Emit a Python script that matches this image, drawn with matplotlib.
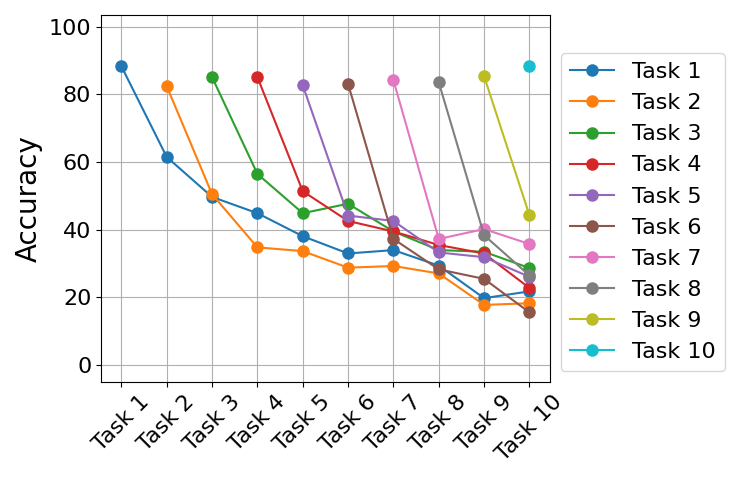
import matplotlib
matplotlib.use('Agg')
import matplotlib.pyplot as plt
import numpy as np

tasks = ['Task 1', 'Task 2', 'Task 3', 'Task 4', 'Task 5',
         'Task 6', 'Task 7', 'Task 8', 'Task 9', 'Task 10']

# accuracy of task i after training on task j (starts at j == i)
acc_task1 = [88.3, 61.5, 49.7, 44.9, 38.1, 33.0, 34.0, 29.4, 19.8, 21.8]
acc_task2 = [82.4, 50.5, 34.8, 33.7, 28.8, 29.3, 27.1, 17.8, 18.3]
acc_task3 = [85.1, 56.5, 44.9, 47.7, 39.5, 34.0, 33.5, 28.7]
acc_task4 = [85.1, 51.4, 42.6, 39.5, 35.5, 33.0, 22.8]
acc_task5 = [82.7, 44.2, 42.6, 33.3, 31.9, 26.1]
acc_task6 = [83.1, 37.3, 28.3, 25.5, 15.6]
acc_task7 = [84.2, 37.3, 40.2, 35.8]
acc_task8 = [83.6, 38.4, 26.5]
acc_task9 = [85.4, 44.3]
acc_task10 = [88.3]

all_acc = [acc_task1, acc_task2, acc_task3, acc_task4, acc_task5,
           acc_task6, acc_task7, acc_task8, acc_task9, acc_task10]

fig, ax = plt.subplots(figsize=(7.4, 4.8), dpi=100)

x = np.arange(len(tasks))
for idx, acc in enumerate(all_acc):
    ax.plot(x[idx:], acc, marker='o', markersize=8, linewidth=1.5, label=tasks[idx])

ax.set_xticks(x)
ax.set_xticklabels(tasks, rotation=45, fontsize=16)
ax.set_yticks([0, 20, 40, 60, 80, 100])
ax.tick_params(axis='y', labelsize=16)
ax.set_ylim(-5, 103.5)
ax.set_ylabel('Accuracy', fontsize=20)
ax.grid(True, color='#b0b0b0')
ax.set_axisbelow(True)

ax.legend(loc='center left', bbox_to_anchor=(1.0, 0.463), fontsize=16)
plt.subplots_adjust(left=0.1365, right=0.743, top=0.969, bottom=0.204)
plt.savefig('out.png', dpi=100)
